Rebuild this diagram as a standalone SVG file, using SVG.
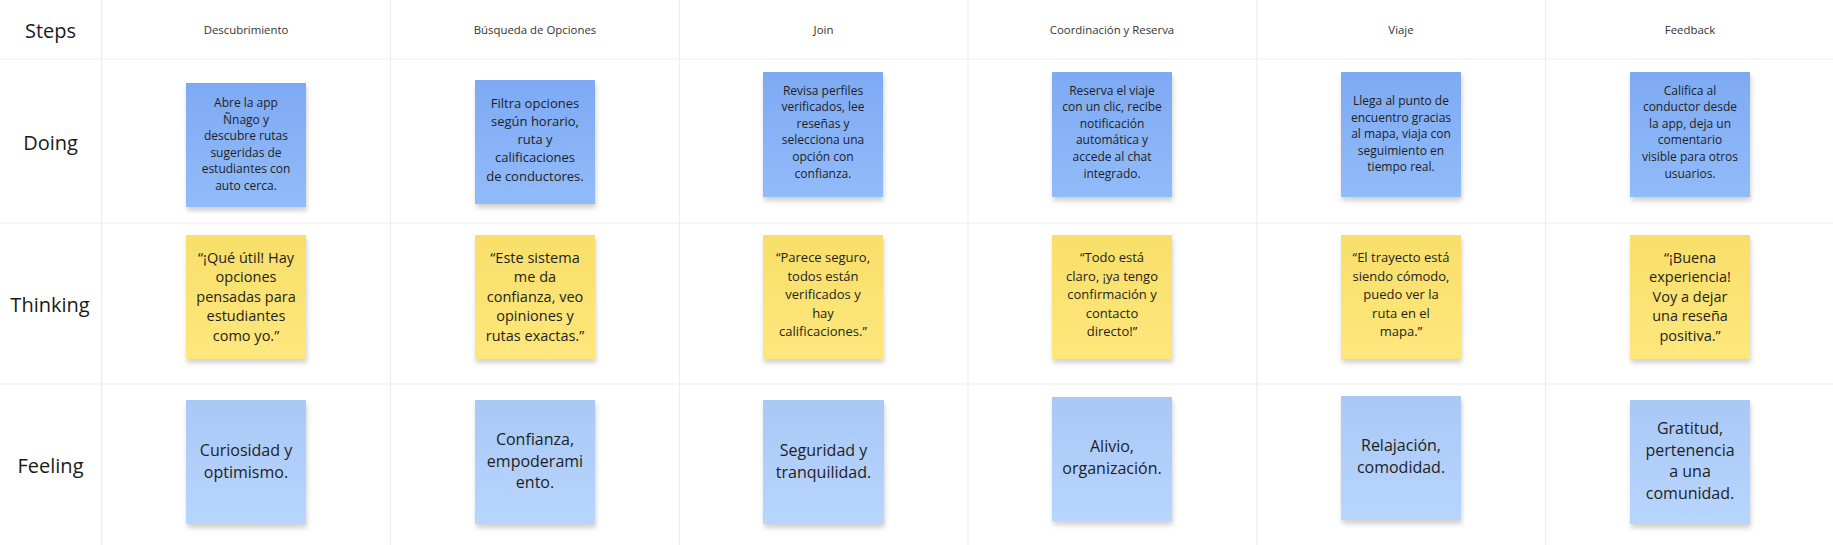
<svg xmlns="http://www.w3.org/2000/svg" width="1833" height="545" viewBox="0 0 1833 545">
<style>
.grid{stroke:#ededed;stroke-width:1.2;fill:none}
.row{font-family:"Open Sans","Noto Sans","Liberation Sans",sans-serif;font-size:20px;fill:#1a1a1a;text-anchor:middle}
.col{font-family:"Open Sans","Noto Sans","Liberation Sans",sans-serif;font-size:11.4px;fill:#333;text-anchor:middle}
.nt{font-family:"Open Sans","Noto Sans","Liberation Sans",sans-serif;fill:#1e1e1e;text-anchor:middle}
.s12{font-size:12px}
.s13{font-size:13px}
.s145{font-size:14.5px}
.s16{font-size:16px}
.doing{fill:url(#gDoing)}
.think{fill:url(#gThink)}
.feel{fill:url(#gFeel)}
.note{filter:url(#sh)}
</style>
<defs>
<linearGradient id="gDoing" x1="0" y1="0" x2="0" y2="1">
<stop offset="0" stop-color="#7eaaf4"/><stop offset="1" stop-color="#91bbf9"/>
</linearGradient>
<linearGradient id="gThink" x1="0" y1="0" x2="0" y2="1">
<stop offset="0" stop-color="#f8df6a"/><stop offset="1" stop-color="#fee77c"/>
</linearGradient>
<linearGradient id="gFeel" x1="0" y1="0" x2="0" y2="1">
<stop offset="0" stop-color="#a9c8f6"/><stop offset="1" stop-color="#b8d5fe"/>
</linearGradient>
<filter id="sh" x="-20%" y="-20%" width="140%" height="140%">
<feDropShadow dx="1" dy="4" stdDeviation="2.5" flood-color="#000" flood-opacity="0.18"/>
</filter>
</defs>
<rect width="1833" height="545" fill="#ffffff"/>
<g id="grid">
<line class="grid" x1="101.5" y1="0" x2="101.5" y2="545"/>
<line class="grid" x1="390.5" y1="0" x2="390.5" y2="545"/>
<line class="grid" x1="679.5" y1="0" x2="679.5" y2="545"/>
<line class="grid" x1="968" y1="0" x2="968" y2="545"/>
<line class="grid" x1="1257" y1="0" x2="1257" y2="545"/>
<line class="grid" x1="1545.5" y1="0" x2="1545.5" y2="545"/>
<line class="grid" x1="0" y1="59" x2="1833" y2="59"/>
<line class="grid" x1="0" y1="223" x2="1833" y2="223"/>
<line class="grid" x1="0" y1="384" x2="1833" y2="384"/>
</g>
<g id="row-labels">
<text class="row" x="50.5" y="37.7">Steps</text>
<text class="row" x="50.5" y="150">Doing</text>
<text class="row" x="50" y="311.5">Thinking</text>
<text class="row" x="50.5" y="473">Feeling</text>
</g>
<g id="col-labels">
<text class="col" x="246" y="33.5">Descubrimiento</text>
<text class="col" x="535" y="33.5">Búsqueda de Opciones</text>
<text class="col" x="823.5" y="33.5">Join</text>
<text class="col" x="1112" y="33.5">Coordinación y Reserva</text>
<text class="col" x="1401" y="33.5">Viaje</text>
<text class="col" x="1690" y="33.5">Feedback</text>
</g>
<g id="connectors"></g>

<g id="doing-1"><rect class="note doing" x="186" y="83" width="120" height="124"/>
<text class="nt s12"><tspan x="246" y="107">Abre la app</tspan><tspan x="246" y="123.6">Ñnago y</tspan><tspan x="246" y="140.2">descubre rutas</tspan><tspan x="246" y="156.8">sugeridas de</tspan><tspan x="246" y="173.4">estudiantes con</tspan><tspan x="246" y="190">auto cerca.</tspan></text></g>
<g id="doing-2"><rect class="note doing" x="475" y="80" width="120" height="124"/>
<text class="nt s13"><tspan x="535" y="107.5">Filtra opciones</tspan><tspan x="535" y="125.8">según horario,</tspan><tspan x="535" y="144.1">ruta y</tspan><tspan x="535" y="162.4">calificaciones</tspan><tspan x="535" y="180.7">de conductores.</tspan></text></g>
<g id="doing-3"><rect class="note doing" x="763" y="72" width="120" height="125"/>
<text class="nt s12"><tspan x="823" y="94.5">Revisa perfiles</tspan><tspan x="823" y="111.1">verificados, lee</tspan><tspan x="823" y="127.7">reseñas y</tspan><tspan x="823" y="144.3">selecciona una</tspan><tspan x="823" y="160.9">opción con</tspan><tspan x="823" y="177.5">confianza.</tspan></text></g>
<g id="doing-4"><rect class="note doing" x="1052" y="72" width="120" height="125"/>
<text class="nt s12"><tspan x="1112" y="94.5">Reserva el viaje</tspan><tspan x="1112" y="111.1">con un clic, recibe</tspan><tspan x="1112" y="127.7">notificación</tspan><tspan x="1112" y="144.3">automática y</tspan><tspan x="1112" y="160.9">accede al chat</tspan><tspan x="1112" y="177.5">integrado.</tspan></text></g>
<g id="doing-5"><rect class="note doing" x="1341" y="72" width="120" height="125"/>
<text class="nt s12"><tspan x="1401" y="105">Llega al punto de</tspan><tspan x="1401" y="121.6">encuentro gracias</tspan><tspan x="1401" y="138.2">al mapa, viaja con</tspan><tspan x="1401" y="154.8">seguimiento en</tspan><tspan x="1401" y="171.4">tiempo real.</tspan></text></g>
<g id="doing-6"><rect class="note doing" x="1630" y="72" width="120" height="125"/>
<text class="nt s12"><tspan x="1690" y="94.5">Califica al</tspan><tspan x="1690" y="111.1">conductor desde</tspan><tspan x="1690" y="127.7">la app, deja un</tspan><tspan x="1690" y="144.3">comentario</tspan><tspan x="1690" y="160.9">visible para otros</tspan><tspan x="1690" y="177.5">usuarios.</tspan></text></g>

<g id="thinking-1"><rect class="note think" x="186" y="235" width="120" height="124"/>
<text class="nt s145"><tspan x="246" y="262.5">“¡Qué útil! Hay</tspan><tspan x="246" y="282.1">opciones</tspan><tspan x="246" y="301.7">pensadas para</tspan><tspan x="246" y="321.3">estudiantes</tspan><tspan x="246" y="340.9">como yo.”</tspan></text></g>
<g id="thinking-2"><rect class="note think" x="475" y="235" width="120" height="124"/>
<text class="nt s145"><tspan x="535" y="262.5">“Este sistema</tspan><tspan x="535" y="282.1">me da</tspan><tspan x="535" y="301.7">confianza, veo</tspan><tspan x="535" y="321.3">opiniones y</tspan><tspan x="535" y="340.9">rutas exactas.”</tspan></text></g>
<g id="thinking-3"><rect class="note think" x="763" y="235" width="120" height="124"/>
<text class="nt s13"><tspan x="823" y="262">“Parece seguro,</tspan><tspan x="823" y="280.6">todos están</tspan><tspan x="823" y="299.2">verificados y</tspan><tspan x="823" y="317.8">hay</tspan><tspan x="823" y="336.4">calificaciones.”</tspan></text></g>
<g id="thinking-4"><rect class="note think" x="1052" y="235" width="120" height="124"/>
<text class="nt s13"><tspan x="1112" y="262">“Todo está</tspan><tspan x="1112" y="280.6">claro, ¡ya tengo</tspan><tspan x="1112" y="299.2">confirmación y</tspan><tspan x="1112" y="317.8">contacto</tspan><tspan x="1112" y="336.4">directo!”</tspan></text></g>
<g id="thinking-5"><rect class="note think" x="1341" y="235" width="120" height="124"/>
<text class="nt s13"><tspan x="1401" y="262">“El trayecto está</tspan><tspan x="1401" y="280.6">siendo cómodo,</tspan><tspan x="1401" y="299.2">puedo ver la</tspan><tspan x="1401" y="317.8">ruta en el</tspan><tspan x="1401" y="336.4">mapa.”</tspan></text></g>
<g id="thinking-6"><rect class="note think" x="1630" y="235" width="120" height="124"/>
<text class="nt s145"><tspan x="1690" y="262.5">“¡Buena</tspan><tspan x="1690" y="282.1">experiencia!</tspan><tspan x="1690" y="301.7">Voy a dejar</tspan><tspan x="1690" y="321.3">una reseña</tspan><tspan x="1690" y="340.9">positiva.”</tspan></text></g>

<g id="feeling-1"><rect class="note feel" x="186" y="400" width="120" height="124"/>
<text class="nt s16"><tspan x="246" y="455.7">Curiosidad y</tspan><tspan x="246" y="477.5">optimismo.</tspan></text></g>
<g id="feeling-2"><rect class="note feel" x="475" y="400" width="120" height="124"/>
<text class="nt s16"><tspan x="535" y="444.8">Confianza,</tspan><tspan x="535" y="466.6">empoderami</tspan><tspan x="535" y="488.4">ento.</tspan></text></g>
<g id="feeling-3"><rect class="note feel" x="763" y="400" width="121" height="124"/>
<text class="nt s16"><tspan x="823.5" y="455.7">Seguridad y</tspan><tspan x="823.5" y="477.5">tranquilidad.</tspan></text></g>
<g id="feeling-4"><rect class="note feel" x="1052" y="397" width="120" height="124"/>
<text class="nt s16"><tspan x="1112" y="452.2">Alivio,</tspan><tspan x="1112" y="474">organización.</tspan></text></g>
<g id="feeling-5"><rect class="note feel" x="1341" y="396" width="120" height="124"/>
<text class="nt s16"><tspan x="1401" y="451.2">Relajación,</tspan><tspan x="1401" y="473">comodidad.</tspan></text></g>
<g id="feeling-6"><rect class="note feel" x="1630" y="400" width="120" height="124"/>
<text class="nt s16"><tspan x="1690" y="433.8">Gratitud,</tspan><tspan x="1690" y="455.6">pertenencia</tspan><tspan x="1690" y="477.4">a una</tspan><tspan x="1690" y="499.2">comunidad.</tspan></text></g>
</svg>
